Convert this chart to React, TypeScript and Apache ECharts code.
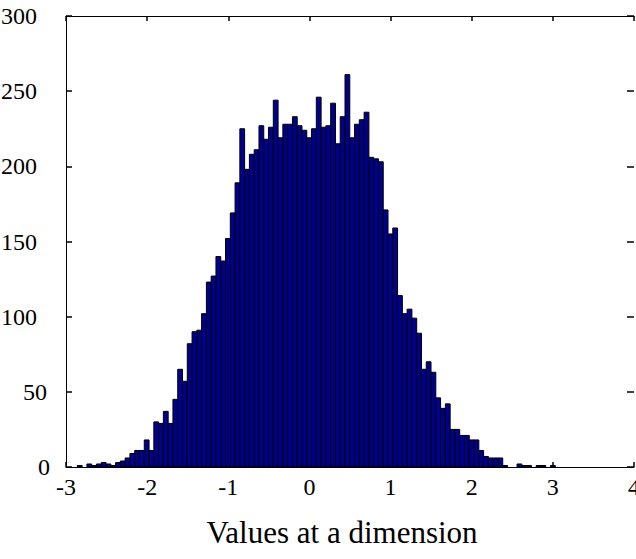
import React, { useEffect, useRef } from "react";
import * as echarts from "echarts";

// Histogram of values at a dimension (100 bins)
const binStart = -2.86;
const binWidth = 0.0589;
const counts = [
  1, 0, 2, 1, 2, 3, 2, 1, 3, 4,
  6, 9, 11, 11, 18, 11, 30, 29, 37, 29,
  45, 65, 57, 82, 90, 91, 102, 123, 127, 140,
  137, 152, 169, 189, 225, 198, 208, 211, 227, 218,
  226, 244, 219, 228, 228, 233, 227, 224, 219, 225,
  246, 226, 227, 242, 215, 233, 261, 219, 228, 231,
  236, 206, 205, 203, 171, 155, 159, 114, 102, 105,
  99, 89, 65, 70, 63, 46, 39, 42, 25, 25,
  21, 21, 18, 18, 11, 7, 6, 6, 6, 1,
  0, 0, 2, 1, 1, 0, 1, 1, 0, 1,
];
const xTicks = { min: -3, max: 4, interval: 1 };
const yTicks = { min: 0, max: 300, interval: 50 };
const xTitle = "Values at a dimension";

export default function App() {
  const ref = useRef<HTMLDivElement>(null);
  useEffect(() => {
    if (!ref.current) return;
    const chart = echarts.init(ref.current, undefined, { renderer: "svg" });
    const data = counts.map((c, i) => [
      binStart + i * binWidth,
      binStart + (i + 1) * binWidth,
      c,
    ]);
    const font = "'Liberation Serif', 'Times New Roman', serif";
    const axisLine = { show: true, onZero: false, lineStyle: { color: "#000", width: 1 } };
    const tick = (len: number) => ({
      show: true,
      inside: true,
      length: len,
      lineStyle: { color: "#000", width: 1.5 },
    });
    const labelText = { color: "#000", fontFamily: font, fontSize: 24 };
    chart.setOption({
      animation: false,
      backgroundColor: "#fff",
      textStyle: { fontFamily: font, color: "#000" },
      grid: {
        left: 66,
        top: 16,
        right: 2,
        bottom: 92,
        containLabel: false,
        outerBoundsMode: "none",
      },
      xAxis: [
        {
          type: "value",
          ...xTicks,
          position: "bottom",
          axisLine,
          axisTick: tick(5),
          splitLine: { show: false },
          axisLabel: { ...labelText, margin: 8 },
          name: xTitle,
          nameLocation: "middle",
          nameGap: 50,
          nameTextStyle: {
            color: "#000",
            fontFamily: font,
            fontSize: 31,
            verticalAlign: "top",
            padding: [0, 16, 0, 0],
          },
        },
        {
          type: "value",
          ...xTicks,
          position: "top",
          axisLine,
          axisTick: tick(5),
          splitLine: { show: false },
          axisLabel: { show: false },
        },
      ],
      yAxis: [
        {
          type: "value",
          ...yTicks,
          position: "left",
          axisLine,
          axisTick: tick(6),
          splitLine: { show: false },
          axisLabel: {
            ...labelText,
            margin: 16,
            formatter: (v: number) =>
              v >= 100 ? `{l|${v}}` : v > 0 ? `{m|${v}}` : `{s|${v}}`,
            rich: {
              l: { ...labelText, padding: [0, 13, 0, 0] },
              m: { ...labelText, padding: [0, 3, 0, 0] },
              s: { ...labelText },
            },
          },
        },
        {
          type: "value",
          ...yTicks,
          position: "right",
          axisLine: { show: false, onZero: false },
          axisTick: tick(7),
          splitLine: { show: false },
          axisLabel: { show: false },
        },
      ],
      series: [
        {
          type: "custom",
          xAxisIndex: 0,
          yAxisIndex: 0,
          data,
          encode: { x: [0, 1], y: 2 },
          renderItem: (params: any, api: any) => {
            const c = api.value(2);
            if (!c) return null;
            const p0 = api.coord([api.value(0), c]);
            const p1 = api.coord([api.value(1), 0]);
            return {
              type: "rect",
              shape: { x: p0[0], y: p0[1], width: p1[0] - p0[0], height: p1[1] - p0[1] },
              style: { fill: "#00008F", stroke: "#000", lineWidth: 1 },
            };
          },
        },
      ],
    });
    return () => chart.dispose();
  }, []);
  return (
    <div
      ref={ref}
      style={{ position: "fixed", left: 0, top: 0, width: 636, height: 559, background: "#fff" }}
    />
  );
}
